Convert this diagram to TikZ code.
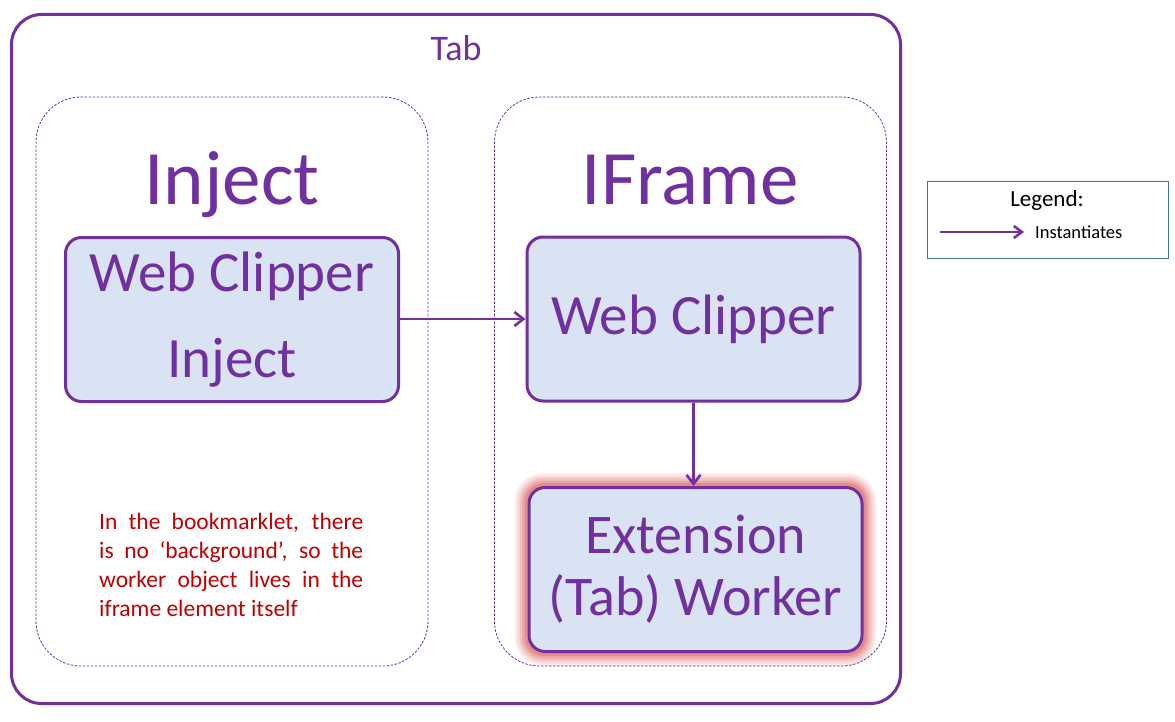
\documentclass[tikz,border=0pt]{standalone}
\usepackage{fontspec}
\setmainfont{Carlito}
\usetikzlibrary{arrows.meta,backgrounds}
\definecolor{purp}{HTML}{7030A0}
\definecolor{boxfill}{HTML}{DAE3F3}
\definecolor{notered}{HTML}{C00000}
\definecolor{legbd}{HTML}{41719C}
\definecolor{glowred}{HTML}{D85050}
\tikzset{
  tabbox/.style={draw=purp, line width=3pt, rounded corners=30pt, minimum width=889pt, minimum height=689pt, inner sep=0pt},
  container/.style={draw=purp, line width=0.8pt, dash pattern=on 2.5pt off 1.5pt, rounded corners=45pt, minimum width=392pt, minimum height=569pt, inner sep=0pt},
  compbox/.style={draw=purp, fill=boxfill, line width=3pt, rounded corners=16pt, minimum width=333pt, minimum height=164pt, inner sep=0pt, align=center, text=purp},
  arr/.style={draw=purp, line width=2.6pt, -{Straight Barb[length=9pt,width=14pt,line width=2.6pt]}},
  bigtitle/.style={text=purp, font=\fontsize{77}{90}\selectfont, anchor=base, inner sep=0pt},
}
\begin{document}
\begin{tikzpicture}[x=1pt,y=-1pt]
\useasboundingbox (0,0) rectangle (1175,722);
\begin{scope}[on background layer]
\fill[white] (0,0) rectangle (1175,722);
\end{scope}

\node[tabbox] (tab) at (456,359) {};
\node[text=purp, font=\fontsize{36}{40}\selectfont, anchor=base, inner sep=0pt] (tablbl) at (456,61) {Tab};

\node[container] (injc) at (232,381.5) {};
\node[container] (ifrc) at (690.5,381.5) {};

\node[bigtitle] (injlbl) at (232,205) {Inject};
\node[bigtitle] (ifrlbl) at (690,205) {IFrame};

\node[compbox, font=\fontsize{57}{86}\selectfont] (wci) at (232,319.5) {\rule{0pt}{0pt}\raisebox{-2pt}{Web Clipper}\\\raisebox{-2pt}{Inject}};
\node[compbox, font=\fontsize{57}{70}\selectfont] (wc) at (693.5,319) {Web Clipper};
\node[compbox, font=\fontsize{56}{62}\selectfont] (ext) at (695.5,569.5) {Extension\\(Tab) Worker};

\begin{scope}[on background layer]
\foreach \w/\o in {26/0.10, 21/0.12, 16/0.16, 11/0.22, 6/0.3}{
  \draw[glowred, line width=\w pt, opacity=\o, rounded corners=16pt] (ext.south west) rectangle (ext.north east);
}
\end{scope}

\draw[arr] (wci.east |- wc.west) -- (wc.west);
\draw[arr] (wc.south) -- (wc.south |- ext.north);

\node[text=notered, font=\fontsize{23.5}{29}\selectfont, anchor=base west, align=left, inner sep=0pt] (note) at (99,616)
  {\makebox[264pt][s]{In the bookmarklet, there}\\
   \makebox[264pt][s]{is no ‘background’, so the}\\
   \makebox[264pt][s]{worker object lives in the}\\
   iframe element itself};

\node[draw=legbd, line width=1pt, minimum width=241pt, minimum height=76pt, inner sep=0pt] (legend) at (1047.5,220) {};
\node[font=\fontsize{23}{26}\selectfont, anchor=base, inner sep=0pt] (legtitle) at (1047,207) {Legend:};
\coordinate (la) at (940,232);
\coordinate (lb) at (1024,232);
\draw[draw=purp, line width=2.6pt, -{Straight Barb[length=8pt,width=12pt,line width=2.6pt]}] (la) -- (lb);
\node[font=\fontsize{18.5}{22}\selectfont, anchor=base west, inner sep=0pt] (legtext) at (1035,238) {Instantiates};
\end{tikzpicture}
\end{document}
